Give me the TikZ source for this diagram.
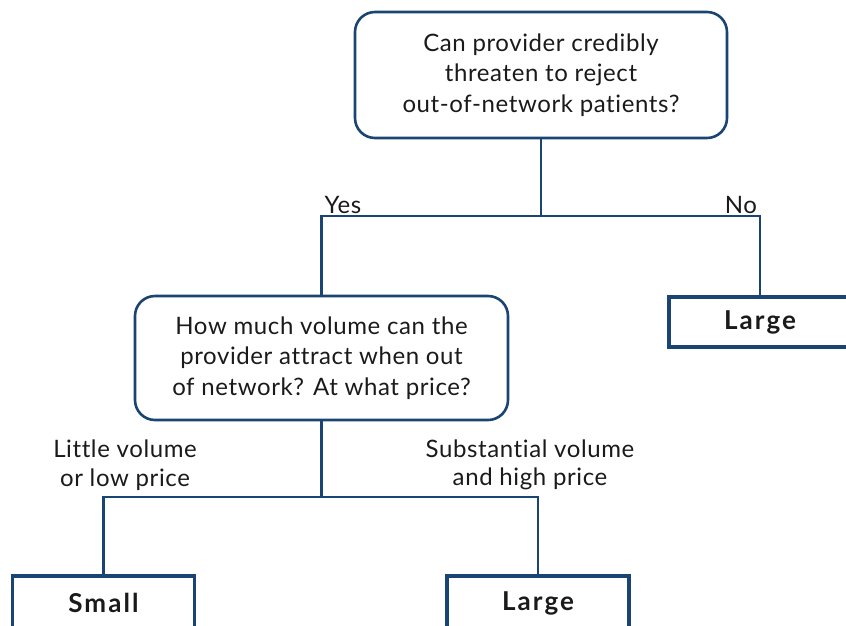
\documentclass[tikz,border=0pt]{standalone}
\usepackage{fontspec}
\setmainfont{Lato}[LetterSpace=2.5,Ligatures=NoCommon]
\newfontfamily\outcomefont{Lato}[LetterSpace=8,Ligatures=NoCommon]
\definecolor{navy}{HTML}{1A4473}
\definecolor{ink}{HTML}{1A1A1A}
\begin{document}
\begin{tikzpicture}[x=1pt,y=-1pt,
  txt/.style={text=ink,font=\fontsize{24}{30.5}\selectfont,align=center,inner sep=0pt},
  question/.style={txt,draw=navy,line width=2.6pt,rounded corners=20pt},
  outcome/.style={draw=navy,line width=3.6pt,minimum width=182pt,minimum height=50pt,
    text=ink,font=\outcomefont\fontsize{26}{27}\selectfont\bfseries,inner sep=0pt},
  link/.style={draw=navy,line width=2.6pt}]
\useasboundingbox (0,0) rectangle (846,625);
\clip (0,0) rectangle (846,625);
% decision nodes
\node[question,minimum width=372pt,minimum height=126pt] (root) at (541,75)
  {Can provider credibly\\threaten to reject\\out-of-network patients?};
\node[question,minimum width=373pt,minimum height=124pt] (mid) at (321.5,358)
  {How much volume can the\\provider attract when out\\of network? At what price?};
% outcomes
\node[outcome] (lgA) at (760,322) {Large};
\node[outcome,minimum height=54pt] (small) at (103.5,603) {Small};
\node[outcome,minimum height=54pt] (lgB) at (538,603) {Large};
% branch points
\coordinate (split1) at (541,216);
\coordinate (split2) at (321.5,497);
\draw[link] (root.south) -- (split1);
\draw[link] (mid.north) |- (split1) -| (lgA.north);
\draw[link] (mid.south) -- (split2);
\draw[link] (small.north) |- (split2) -| (lgB.north);
% branch labels
\node[txt] (yes) at (343,205) {Yes};
\node[txt] (no) at (741,205) {No};
\node[txt,font=\fontsize{24}{28.5}\selectfont] (low) at (125,465) {Little volume\\or low price};
\node[txt,font=\fontsize{24}{28.5}\selectfont] (high) at (530,465) {Substantial volume\\and high price};
\end{tikzpicture}
\end{document}
